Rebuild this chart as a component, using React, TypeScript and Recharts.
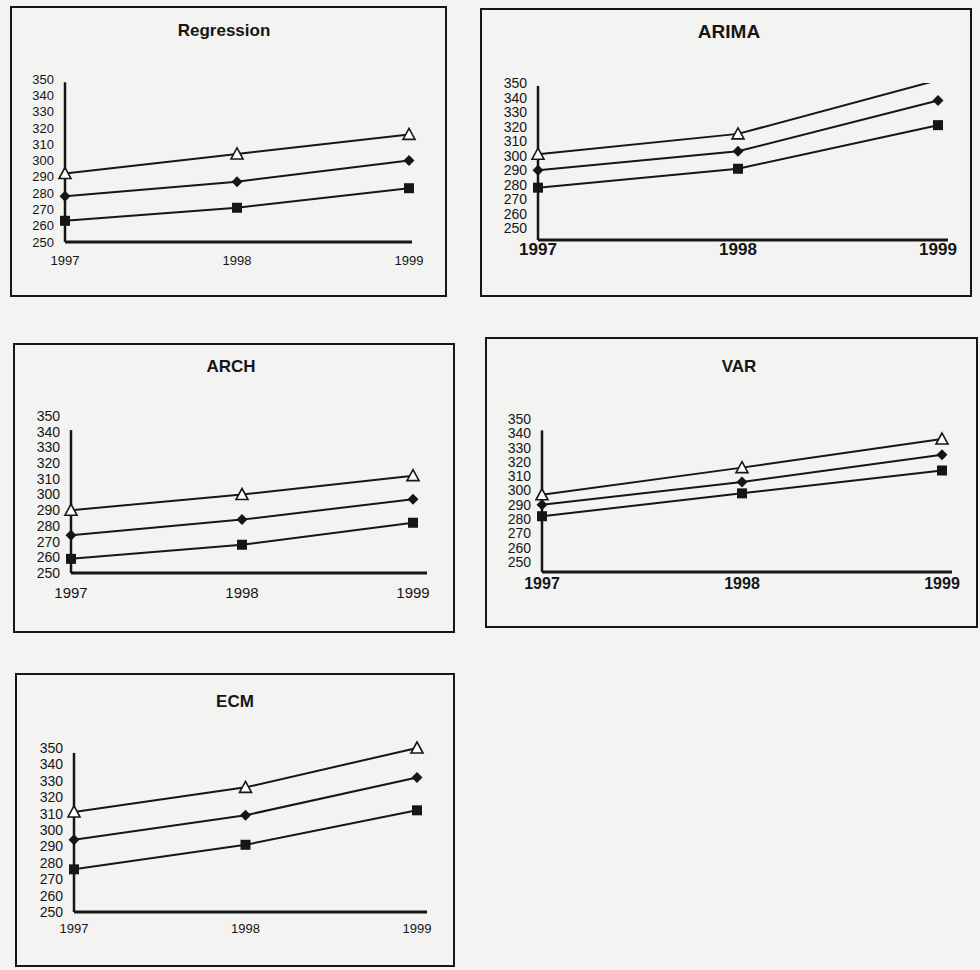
import { LineChart, Line, XAxis, YAxis, ReferenceLine } from "recharts";

const YEARS = ["1997", "1998", "1999"];
const Y_TICKS = [250, 260, 270, 280, 290, 300, 310, 320, 330, 340, 350];

// three series per panel: open triangle (top), diamond (middle), square (bottom)
const REG_TRI = [292, 304, 316];
const REG_DIA = [278, 287, 300];
const REG_SQ = [263, 271, 283];

const ARIMA_TRI = [301, 315, 352];
const ARIMA_DIA = [290, 303, 338];
const ARIMA_SQ = [278, 291, 321];

const ARCH_TRI = [290, 300, 312];
const ARCH_DIA = [274, 284, 297];
const ARCH_SQ = [259, 268, 282];

const VAR_TRI = [297, 316, 336];
const VAR_DIA = [290, 306, 325];
const VAR_SQ = [282, 298, 314];

const ECM_TRI = [311, 326, 350];
const ECM_DIA = [294, 309, 332];
const ECM_SQ = [276, 291, 312];

const INK = "#161616";
const FONT = '"Liberation Sans", Arial, sans-serif';

const rows = (tri: number[], dia: number[], sq: number[]) =>
  YEARS.map((year, i) => ({ year, tri: tri[i], dia: dia[i], sq: sq[i] }));

function TriDot(props: any) {
  const { cx, cy, value, index } = props;
  // the ARIMA 1999 point runs off the top of the scale, no marker there
  if (cx == null || cy == null || value > 350) return <g key={`t${index}`} />;
  return (
    <path
      key={`t${index}`}
      d={`M${cx},${cy - 6} L${cx + 6},${cy + 5} L${cx - 6},${cy + 5} Z`}
      fill="#fff"
      stroke={INK}
      strokeWidth={1.6}
    />
  );
}

function DiaDot(props: any) {
  const { cx, cy, index } = props;
  if (cx == null || cy == null) return <g key={`d${index}`} />;
  return (
    <path
      key={`d${index}`}
      d={`M${cx},${cy - 5.5} L${cx + 5.5},${cy} L${cx},${cy + 5.5} L${cx - 5.5},${cy} Z`}
      fill={INK}
    />
  );
}

function SqDot(props: any) {
  const { cx, cy, index } = props;
  if (cx == null || cy == null) return <g key={`s${index}`} />;
  return <rect key={`s${index}`} x={cx - 5} y={cy - 5} width={10} height={10} fill={INK} />;
}

type PanelProps = {
  title: string;
  data: { year: string; tri: number; dia: number; sq: number }[];
  box: [number, number, number, number];
  titlePos: [number, number, number];
  axisX: number;
  axisRight: number;
  pointRight: number;
  y350: number;
  base: number;
  yMin: number;
  axisTop: number;
  yFont: number;
  xFont: number;
  xBold?: boolean;
  xGap: number;
  overflow?: boolean;
};

function Panel(p: PanelProps) {
  const yw = 44;
  const rightRoom = 30;
  const left = p.axisX - yw;
  const top = p.y350 - 12;
  const width = p.axisRight - left + rightRoom;
  const xh = 34;
  const height = p.base - top + xh;
  const [bl, bt, br, bb] = p.box;
  const [tx, ty, tf] = p.titlePos;

  return (
    <>
      <div
        style={{
          position: "absolute",
          left: bl,
          top: bt,
          width: br - bl,
          height: bb - bt,
          border: `2px solid ${INK}`,
          boxSizing: "border-box",
        }}
      />
      <div
        style={{
          position: "absolute",
          left: tx - 100,
          width: 200,
          top: ty - tf * 0.6,
          textAlign: "center",
          fontFamily: FONT,
          fontWeight: 700,
          fontSize: tf,
          lineHeight: `${tf * 1.2}px`,
          color: INK,
        }}
      >
        {p.title}
      </div>
      <div style={{ position: "absolute", left, top }}>
        <LineChart
          width={width}
          height={height}
          data={p.data}
          margin={{ top: 12, right: rightRoom, left: 0, bottom: 0 }}
        >
          <XAxis
            dataKey="year"
            interval={0}
            height={xh}
            padding={{ left: 0, right: p.axisRight - p.pointRight }}
            axisLine={{ stroke: INK, strokeWidth: 3 }}
            tickLine={false}
            tickSize={0}
            tickMargin={p.xGap - p.xFont / 2}
            tick={{ fill: INK, fontSize: p.xFont, fontFamily: FONT, fontWeight: p.xBold ? 700 : 400 }}
          />
          <YAxis
            width={yw}
            domain={[p.yMin, 350]}
            ticks={Y_TICKS}
            interval={0}
            allowDataOverflow={!!p.overflow}
            axisLine={false}
            tickLine={false}
            tickSize={6}
            tickMargin={5}
            tick={{ fill: INK, fontSize: p.yFont, fontFamily: FONT }}
          />
          <ReferenceLine
            segment={[
              { x: "1997", y: p.yMin },
              { x: "1997", y: p.axisTop },
            ]}
            stroke={INK}
            strokeWidth={2.5}
          />
          <Line dataKey="tri" stroke={INK} strokeWidth={2} dot={TriDot} activeDot={false} isAnimationActive={false} />
          <Line dataKey="dia" stroke={INK} strokeWidth={2} dot={DiaDot} activeDot={false} isAnimationActive={false} />
          <Line dataKey="sq" stroke={INK} strokeWidth={2} dot={SqDot} activeDot={false} isAnimationActive={false} />
        </LineChart>
      </div>
    </>
  );
}

export default function App() {
  return (
    <div
      style={{
        position: "absolute",
        left: 0,
        top: 0,
        width: 980,
        height: 970,
        background: "#f3f3f1",
        overflow: "hidden",
      }}
    >
      <Panel
        title="Regression"
        data={rows(REG_TRI, REG_DIA, REG_SQ)}
        box={[10, 6, 447, 297]}
        titlePos={[224, 31, 17]}
        axisX={65}
        axisRight={412}
        pointRight={409}
        y350={79}
        base={242}
        yMin={250}
        axisTop={348}
        yFont={13}
        xFont={13}
        xGap={20}
      />
      <Panel
        title="ARIMA"
        data={rows(ARIMA_TRI, ARIMA_DIA, ARIMA_SQ)}
        box={[480, 8, 972, 297]}
        titlePos={[729, 32, 19]}
        axisX={538}
        axisRight={948}
        pointRight={938}
        y350={83}
        base={240}
        yMin={242}
        axisTop={348}
        yFont={14}
        xFont={17}
        xBold
        xGap={11}
        overflow
      />
      <Panel
        title="ARCH"
        data={rows(ARCH_TRI, ARCH_DIA, ARCH_SQ)}
        box={[13, 343, 455, 633]}
        titlePos={[231, 367, 17]}
        axisX={71}
        axisRight={427}
        pointRight={413}
        y350={416}
        base={573}
        yMin={250}
        axisTop={341}
        yFont={14}
        xFont={15}
        xGap={22}
      />
      <Panel
        title="VAR"
        data={rows(VAR_TRI, VAR_DIA, VAR_SQ)}
        box={[485, 337, 978, 628]}
        titlePos={[739, 367, 17]}
        axisX={542}
        axisRight={952}
        pointRight={942}
        y350={419}
        base={572}
        yMin={243}
        axisTop={342}
        yFont={14}
        xFont={16}
        xBold
        xGap={14}
      />
      <Panel
        title="ECM"
        data={rows(ECM_TRI, ECM_DIA, ECM_SQ)}
        box={[15, 673, 455, 967]}
        titlePos={[235, 702, 17]}
        axisX={74}
        axisRight={427}
        pointRight={417}
        y350={748}
        base={912}
        yMin={250}
        axisTop={347}
        yFont={14}
        xFont={13}
        xGap={18}
      />
    </div>
  );
}
